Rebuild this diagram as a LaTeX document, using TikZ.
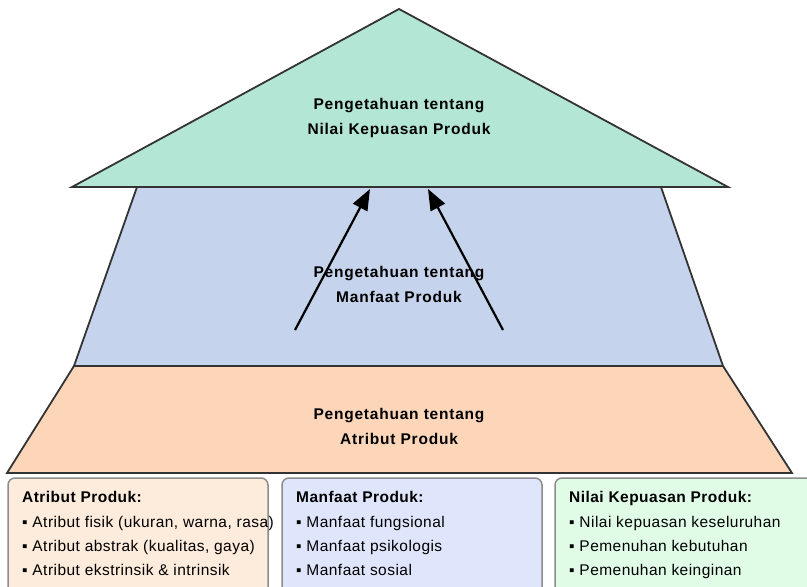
\documentclass[tikz,border=0pt]{standalone}
\usepackage{fontspec}
\setmainfont{Liberation Sans}
\newfontfamily\levelfont[LetterSpace=5]{Liberation Sans}
\newfontfamily\boxfont[LetterSpace=3]{Liberation Sans}
\usetikzlibrary{arrows.meta}
\definecolor{topfill}{HTML}{B3E6D4}
\definecolor{midfill}{HTML}{C6D3EC}
\definecolor{basefill}{HTML}{FDD6BA}
\definecolor{edge}{HTML}{333333}
\definecolor{attrbox}{HTML}{FDEBDC}
\definecolor{benbox}{HTML}{DFE6FC}
\definecolor{valbox}{HTML}{E0FCE6}
\definecolor{boxedge}{HTML}{8C8C8C}
\tikzset{
  level/.style={draw=edge, line width=1.8pt, line join=miter},
  levellabel/.style={align=center, font=\levelfont\bfseries\fontsize{15.5}{25}\selectfont, inner sep=0pt},
  infobox/.style={draw=boxedge, line width=1.5pt, rounded corners=7pt},
  boxtitle/.style={anchor=base west, font=\boxfont\bfseries\fontsize{15.5}{18}\selectfont, inner sep=0pt},
  boxitem/.style={anchor=base west, font=\boxfont\fontsize{15.5}{18}\selectfont, inner sep=0pt},
  flow/.style={line width=2.2pt, -{Triangle[length=21pt,width=16pt]}}
}
\begin{document}
\begin{tikzpicture}[x=1pt,y=-1pt]
\useasboundingbox (0,0) rectangle (807,587);
\clip (0,0) rectangle (807,587);
\fill[white] (0,0) rectangle (807,587);

% pyramid levels
\draw[level, fill=basefill] (74,366) -- (723,366) -- (792,473) -- (7,473) -- cycle;
\draw[level, fill=midfill] (137,187) -- (661,187) -- (723,366) -- (74,366) -- cycle;
\draw[level, fill=topfill] (399,9) -- (728,187) -- (72,187) -- cycle;

\node[levellabel] (top) at (399,117.5) {Pengetahuan tentang\\Nilai Kepuasan Produk};
\node[levellabel] (mid) at (399,284) {Pengetahuan tentang\\Manfaat Produk};
\node[levellabel] (base) at (399,426) {Pengetahuan tentang\\Atribut Produk};

% arrows from the middle level up to the top level
\coordinate (lt) at (295,330);
\coordinate (lh) at (370,189);
\coordinate (rt) at (503,330);
\coordinate (rh) at (428,189);
\draw[flow] (lt) -- (lh);
\draw[flow] (rt) -- (rh);

% information boxes
\draw[infobox, fill=attrbox] (8,478) rectangle (268,610);
\draw[infobox, fill=benbox] (282,478) rectangle (542,610);
\draw[infobox, fill=valbox] (555,478) rectangle (830,610);

\node[boxtitle] (a0) at (22,502.5) {Atribut Produk:};
\node[boxitem] (a1) at (22,527.5) {▪ Atribut fisik (ukuran, warna, rasa)};
\node[boxitem] (a2) at (22,551.5) {▪ Atribut abstrak (kualitas, gaya)};
\node[boxitem] (a3) at (22,575.5) {▪ Atribut ekstrinsik \& intrinsik};

\node[boxtitle] (b0) at (296,502.5) {Manfaat Produk:};
\node[boxitem] (b1) at (296,527.5) {▪ Manfaat fungsional};
\node[boxitem] (b2) at (296,551.5) {▪ Manfaat psikologis};
\node[boxitem] (b3) at (296,575.5) {▪ Manfaat sosial};

\node[boxtitle] (c0) at (569,502.5) {Nilai Kepuasan Produk:};
\node[boxitem] (c1) at (569,527.5) {▪ Nilai kepuasan keseluruhan};
\node[boxitem] (c2) at (569,551.5) {▪ Pemenuhan kebutuhan};
\node[boxitem] (c3) at (569,575.5) {▪ Pemenuhan keinginan};
\end{tikzpicture}
\end{document}
